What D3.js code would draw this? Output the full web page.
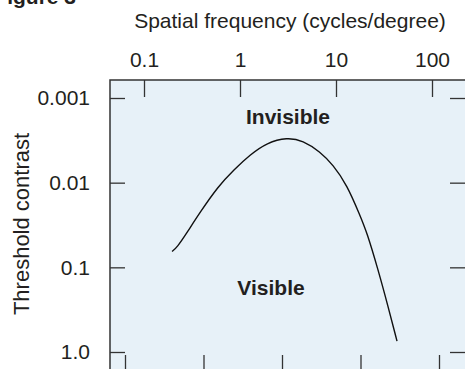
<!DOCTYPE html>
<html>
<head>
<meta charset="utf-8">
<script src="https://cdn.jsdelivr.net/npm/d3@7"></script>
<style>
  html, body { margin: 0; padding: 0; background: #fff; overflow: hidden; }
  svg { display: block; font-family: "Liberation Sans", Arial, Helvetica, sans-serif; }
  .tick text { fill: #231f20; font-size: 21px; }
</style>
</head>
<body>
<div id="chart"></div>
<script>
const WIDTH = 465;
const HEIGHT = 369;

// curve
const freq = [0.196, 0.221, 0.281, 0.383, 0.59, 0.866, 1.27, 1.91, 3.09, 4.53, 6.81, 9.3, 13.0, 17.8, 21.0, 27.4, 34.8, 43.2];
const contrast = [0.0649, 0.0582, 0.0387, 0.0225, 0.0111, 0.00703, 0.00469, 0.00338, 0.00292, 0.00318, 0.00431, 0.00614, 0.0106, 0.0244, 0.0387, 0.106, 0.288, 0.743];

const freqTicks = [0.1, 1, 10, 100];
const freqLabels = ['0.1', '1', '10', '100'];
const contrastTicks = [0.001, 0.01, 0.1, 1];
const contrastLabels = ['0.001', '0.01', '0.1', '1.0'];
const bottomTicks = [0.1, 1, 10, 100, 1000];

const box = { left: 110, top: 80, right: 466, bottom: 372 };

const svg = d3
  .select('#chart')
  .append('svg')
  .attr('width', WIDTH)
  .attr('height', HEIGHT);

const x = d3.scaleLog().domain([0.1, 100]).range([144, 432]);
const y = d3.scaleLog().domain([0.001, 1]).range([98, 352]);
const xb = d3.scaleLog().domain([0.1, 1000]).range([125, 439]);

// plot background
svg
  .append('rect')
  .attr('x', box.left)
  .attr('y', box.top)
  .attr('width', box.right - box.left)
  .attr('height', box.bottom - box.top)
  .attr('fill', '#e7f1f8')
  .attr('stroke', '#333')
  .attr('stroke-width', 1.5);

function styleAxis(g) {
  g.select('.domain').remove();
  g.selectAll('.tick line').attr('stroke', '#333').attr('stroke-width', 1.3);
}

// top axis
svg
  .append('g')
  .attr('transform', `translate(0, ${box.top})`)
  .call(
    d3.axisTop(x)
      .tickValues(freqTicks)
      .tickSize(-17)
      .tickPadding(13)
      .tickFormat((d, i) => freqLabels[i])
  )
  .call(styleAxis);

// left axis
svg
  .append('g')
  .attr('transform', `translate(${box.left}, 0)`)
  .call(
    d3.axisLeft(y)
      .tickValues(contrastTicks)
      .tickSize(-15)
      .tickPadding(20)
      .tickFormat((d, i) => contrastLabels[i])
  )
  .call(styleAxis);

// right axis, ticks only
svg
  .append('g')
  .attr('transform', `translate(${box.right}, 0)`)
  .call(d3.axisRight(y).tickValues(contrastTicks).tickSize(-16).tickFormat(''))
  .call(styleAxis);

// bottom axis, ticks only (labels are cut off)
svg
  .append('g')
  .attr('transform', `translate(0, ${box.bottom})`)
  .call(d3.axisBottom(xb).tickValues(bottomTicks).tickSize(-17).tickFormat(''))
  .call(styleAxis);

// the curve
const pts = freq.map((f, i) => [x(f), y(contrast[i])]);
svg
  .append('path')
  .datum(pts)
  .attr('fill', 'none')
  .attr('stroke', '#111')
  .attr('stroke-width', 1.4)
  .attr('d', d3.line().curve(d3.curveBasis));

// texts
svg
  .append('text')
  .attr('x', 76)
  .attr('y', 4)
  .attr('text-anchor', 'end')
  .attr('font-size', 21)
  .attr('font-weight', 'bold')
  .attr('fill', '#231f20')
  .text('Figure 3');

svg
  .append('text')
  .attr('x', 290)
  .attr('y', 28)
  .attr('text-anchor', 'middle')
  .attr('font-size', 21)
  .attr('fill', '#231f20')
  .text('Spatial frequency (cycles/degree)');

svg
  .append('text')
  .attr('transform', 'translate(29, 224) rotate(-90)')
  .attr('text-anchor', 'middle')
  .attr('font-size', 22)
  .attr('fill', '#231f20')
  .text('Threshold contrast');

svg
  .append('text')
  .attr('x', 288)
  .attr('y', 124)
  .attr('text-anchor', 'middle')
  .attr('font-size', 21)
  .attr('font-weight', 'bold')
  .attr('fill', '#231f20')
  .text('Invisible');

svg
  .append('text')
  .attr('x', 271)
  .attr('y', 295)
  .attr('text-anchor', 'middle')
  .attr('font-size', 21)
  .attr('font-weight', 'bold')
  .attr('fill', '#231f20')
  .text('Visible');
</script>
</body>
</html>
